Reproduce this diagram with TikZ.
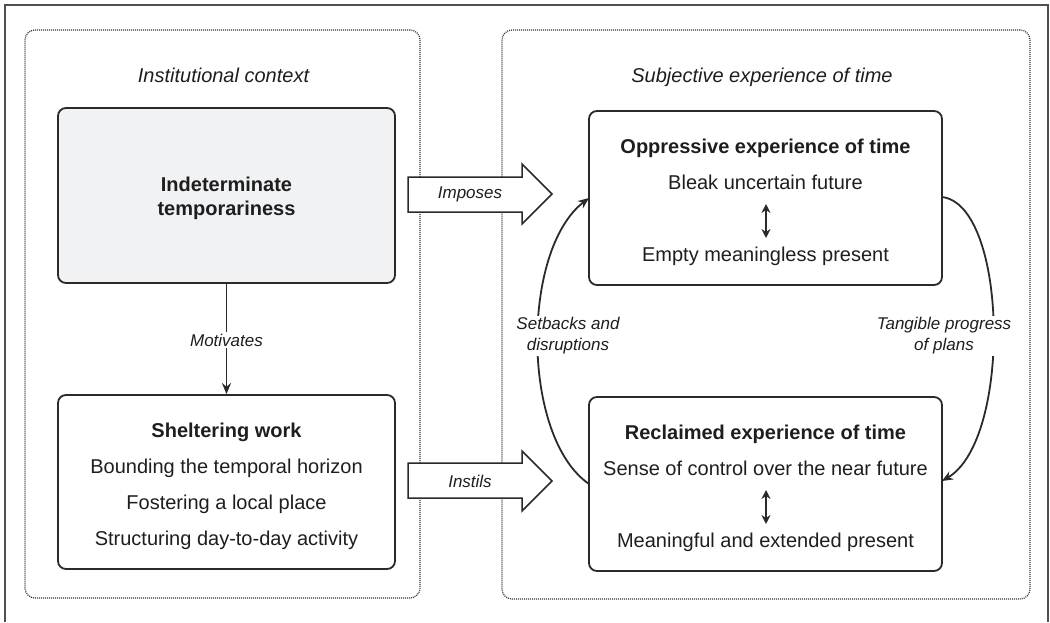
\documentclass[tikz,border=0pt]{standalone}
\usepackage{fontspec}
\setmainfont{Liberation Sans}
\usetikzlibrary{arrows.meta}
\definecolor{ink}{HTML}{1E1E1E}
\definecolor{edge}{HTML}{2A2A2A}
\definecolor{framec}{HTML}{505050}
\definecolor{dotc}{HTML}{333333}
\definecolor{graybox}{HTML}{F1F2F4}
\tikzset{
  mainbox/.style={draw=edge, line width=1.8pt, rounded corners=8pt, inner sep=0pt},
  groupbox/.style={draw=dotc, line width=1.2pt, dash pattern=on 1pt off 1pt, rounded corners=10pt, inner sep=0pt},
  bigtxt/.style={text=ink, font=\fontsize{20}{24}\selectfont, align=center, anchor=base, inner sep=0pt},
  grptxt/.style={text=ink, font=\fontsize{20}{24}\selectfont\itshape, anchor=base, inner sep=0pt},
  lbl/.style={text=ink, font=\fontsize{17}{21}\selectfont\itshape, align=center, fill=white, inner sep=2pt},
  lblplain/.style={text=ink, font=\fontsize{17}{21}\selectfont\itshape, align=center, inner sep=0pt},
  conn/.style={draw=edge, line width=1.8pt, -{Stealth[length=11pt,width=9pt]}},
  dbl/.style={draw=edge, line width=2pt, {Stealth[length=9pt,width=9pt]}-{Stealth[length=9pt,width=9pt]}},
  blockarrow/.style={draw=edge, line width=1.5pt, fill=white, line join=miter}
}
\begin{document}
\begin{tikzpicture}[x=1pt,y=-1pt]
\useasboundingbox (0,0) rectangle (1050,622);
% outer frame
\draw[framec, line width=1.6pt] (5,622) -- (5,5) -- (1048,5) -- (1048,622);
% group boxes
\node[groupbox, minimum width=395pt, minimum height=568pt] (leftgrp) at (222.5,314) {};
\node[groupbox, minimum width=528pt, minimum height=569pt] (rightgrp) at (766,314.5) {};
\node[grptxt] (lefttitle) at (223.5,82) {Institutional context};
\node[grptxt] (righttitle) at (762,82) {Subjective experience of time};
% block arrows
\draw[blockarrow] (408,177) coordinate (impA) -- (522,177) -- (522,164) -- (552,194) coordinate (impTip) -- (522,224) -- (522,212) -- (408,212) -- cycle;
\node[lblplain] (imposes) at (470,194) {Imposes};
\draw[blockarrow] (408,463) coordinate (insA) -- (522,463) -- (522,451) -- (552,481) coordinate (insTip) -- (522,511) -- (522,498) -- (408,498) -- cycle;
\node[lblplain] (instils) at (470,481) {Instils};
% left boxes
\node[mainbox, fill=graybox, minimum width=337pt, minimum height=175pt] (indet) at (226.5,195.5) {};
\node[bigtxt, font=\fontsize{20}{24}\selectfont\bfseries] (indettxt) at (226.5,215) {Indeterminate\\temporariness};
\node[mainbox, minimum width=337pt, minimum height=174pt] (shelter) at (226.5,482) {};
\node[bigtxt, font=\fontsize{20}{36}\selectfont] (sheltertxt) at (226.5,545) {\textbf{Sheltering work}\\Bounding the temporal horizon\\Fostering a local place\\Structuring day-to-day activity};
% right boxes
\node[mainbox, minimum width=353pt, minimum height=174pt] (oppr) at (765.5,198) {};
\node[bigtxt, font=\fontsize{20}{24}\selectfont\bfseries] (opprtitle) at (765.5,153) {Oppressive experience of time};
\node[bigtxt] (bleak) at (765.5,189) {Bleak uncertain future};
\node[bigtxt] (empty) at (765.5,261) {Empty meaningless present};
\coordinate (oa1) at (766,204);
\coordinate (oa2) at (766,238);
\draw[dbl] (oa1) -- (oa2);
\node[mainbox, minimum width=353pt, minimum height=174pt] (recl) at (765.5,484) {};
\node[bigtxt, font=\fontsize{20}{24}\selectfont\bfseries] (recltitle) at (765.5,439) {Reclaimed experience of time};
\node[bigtxt] (sense) at (765.5,475) {Sense of control over the near future};
\node[bigtxt] (meaning) at (765.5,547) {Meaningful and extended present};
\coordinate (ra1) at (766,490);
\coordinate (ra2) at (766,524);
\draw[dbl] (ra1) -- (ra2);
% motivates
\draw[conn] (indet.south) -- (shelter.north);
\node[lbl] (motivates) at (226.5,340) {Motivates};
% curves
\coordinate (lc0) at (589,484);
\coordinate (lc3) at (589,198);
\coordinate (rc0) at (942,197);
\coordinate (rc3) at (942,481);
\draw[conn] (lc0) .. controls (521,437) and (521,250) .. (lc3);
\draw[conn] (rc0) .. controls (1008,205) and (1012,440) .. (rc3);
\node[lbl] (setbacks) at (568,336) {Setbacks and\\disruptions};
\node[lbl] (tangible) at (944,336) {Tangible progress\\of plans};
\end{tikzpicture}
\end{document}
